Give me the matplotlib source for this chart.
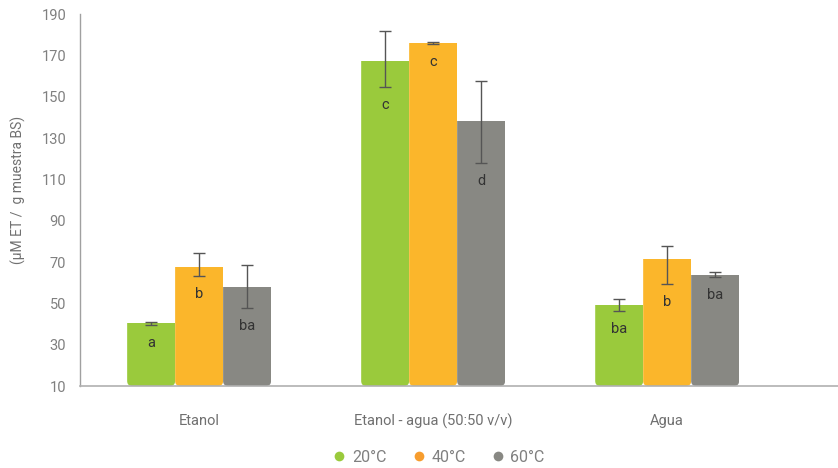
import matplotlib
matplotlib.use("Agg")
import matplotlib.pyplot as plt
from matplotlib.patches import FancyBboxPatch
import numpy as np

plt.rcParams['font.family'] = ['Roboto', 'DejaVu Sans']

categories = ["Etanol", "Etanol - agua (50:50 v/v)", "Agua"]
series_names = ["20°C", "40°C", "60°C"]
values = {
    "20°C": [40.4, 167.3, 49.4],
    "40°C": [67.7, 175.8, 71.3],
    "60°C": [57.9, 138.4, 63.7],
}
err_low = {
    "20°C": [1.0, 12.8, 3.1],
    "40°C": [4.3, 0.4, 11.9],
    "60°C": [10.3, 20.6, 1.0],
}
err_high = {
    "20°C": [0.6, 14.5, 2.6],
    "40°C": [6.5, 0.5, 6.5],
    "60°C": [10.8, 19.3, 1.6],
}
letters = {
    "20°C": ["a", "c", "ba"],
    "40°C": ["b", "c", "b"],
    "60°C": ["ba", "d", "ba"],
}
bar_colors = ["#9aca3c", "#fbb62b", "#888883"]
legend_colors = ["#9aca3c", "#f79d2e", "#888883"]
yticks = [10, 30, 50, 70, 90, 110, 130, 150, 170, 190]

fig = plt.figure(figsize=(8.38, 4.68), dpi=100)
ax = fig.add_axes([80/838, 1-386/468, 1-80/838, (386-14)/468])

x = np.arange(len(categories))
w = 0.205
ax.set_xlim(-0.509, 2.73)
ax.set_ylim(10, 190)

# pixel scales for rounding bottom corners
px_per_x = 234.0
px_per_y = 372.0 / 180.0
r_px = 5.0
aspect = (1/px_per_y) / (1/px_per_x)

for i, (name, col) in enumerate(zip(series_names, bar_colors)):
    pos = x + (i - 1) * w
    bars = ax.bar(pos, values[name], width=w, color=col, edgecolor='none', zorder=2)
    for b in bars:
        x0 = b.get_x()
        clip = FancyBboxPatch((x0, 10), w, 400,
                              boxstyle=f"round,pad=0,rounding_size={r_px/px_per_x}",
                              mutation_aspect=aspect, transform=ax.transData,
                              facecolor='none', edgecolor='none')
        ax.add_patch(clip)
        b.set_clip_path(clip)
    ax.errorbar(pos, values[name], yerr=[err_low[name], err_high[name]], fmt='none',
                ecolor='#555555', elinewidth=1.0, capsize=4, capthick=1.0, zorder=3)
    for p, v, el, lt in zip(pos, values[name], err_low[name], letters[name]):
        ax.annotate(lt, (p, v - el), xytext=(0, -13), textcoords='offset points',
                    ha='center', va='center', fontsize=10.5, color='#333333', zorder=4)

for s in ['top', 'right']:
    ax.spines[s].set_visible(False)
ax.spines['left'].set_color('#a0a0a0')
ax.spines['bottom'].set_color('#b0b0b0')
ax.spines['left'].set_linewidth(1.0)
ax.spines['bottom'].set_linewidth(1.2)

ax.set_yticks(yticks)
ax.set_yticklabels([str(t) for t in yticks])
ax.set_xticks(x)
ax.set_xticklabels(categories)
ax.tick_params(axis='y', length=0, pad=10, labelsize=10.5, labelcolor='#808080')
ax.tick_params(axis='x', length=0, pad=20, labelsize=10.5, labelcolor='#707070')

fig.text(18/838, 1-190/468, "(µM ET /  g muestra BS)", rotation=90, ha='center',
         va='center', fontsize=10, color='#707070')

handles = [plt.Line2D([], [], marker='o', linestyle='none', markersize=7,
                      markerfacecolor=c, markeredgecolor='none') for c in legend_colors]
fig.legend(handles, series_names, loc='center', bbox_to_anchor=(438/838, 1-457/468),
           ncol=3, frameon=False, fontsize=11.5, labelcolor='#808080',
           handletextpad=0.3, columnspacing=1.5, handlelength=1.0)

fig.savefig("out.png", dpi=100)
